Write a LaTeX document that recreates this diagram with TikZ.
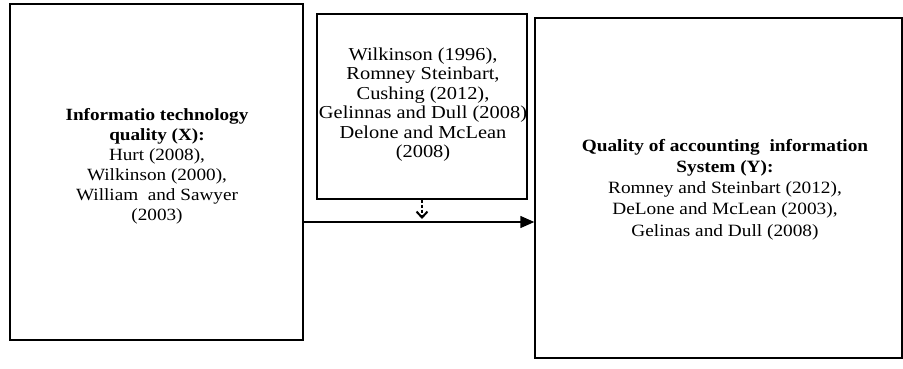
\documentclass[tikz,border=0pt]{standalone}
\usepackage{fontspec}
\setmainfont{Liberation Serif}[FakeStretch=1.12]
\usetikzlibrary{arrows.meta}
\begin{document}
\begin{tikzpicture}[x=1bp,y=-1bp,
  box/.style={draw=black,line width=1.4bp,inner sep=0pt},
  txt/.style={align=center,inner sep=0pt,anchor=base},
  conn/.style={line width=1.4bp}]
\useasboundingbox (0,0) rectangle (903,368);
\node[box] (X) at (156.5,172) [minimum width=293bp,minimum height=336bp] {};
\node[box] (M) at (422,106.5) [minimum width=210bp,minimum height=185bp] {};
\node[box] (Y) at (718.5,188) [minimum width=367bp,minimum height=340bp] {};
\node[txt,font=\fontsize{17.2}{20}\selectfont] (Xt) at (157,220) {\textbf{Informatio technology}\\\textbf{quality (X):}\\Hurt (2008),\\Wilkinson (2000),\\William\ \ and Sawyer\\(2003)};
\node[txt,font=\fontsize{18.3}{19.5}\selectfont] (Mt) at (423,157.5) {Wilkinson (1996),\\Romney Steinbart,\\Cushing (2012),\\Gelinnas and Dull (2008)\\Delone and McLean\\(2008)};
\node[txt,font=\fontsize{17.3}{21.3}\selectfont] (Yt) at (725,236) {\textbf{Quality of accounting\ \ information}\\\textbf{System (Y):}\\Romney and Steinbart (2012),\\DeLone and McLean (2003),\\Gelinas and Dull (2008)};
\coordinate (a) at (X.east |- 0,222);
\coordinate (b) at (Y.west |- 0,222);
\draw[conn,-{Triangle[length=14bp,width=12bp]}] (a) -- (b);
\coordinate (c) at (M.south |- 0,219);
\draw[conn,dash pattern=on 3bp off 2bp,-{Straight Barb[length=6bp,width=11bp,line width=2bp]}] (M.south) -- (c);
\end{tikzpicture}
\end{document}
